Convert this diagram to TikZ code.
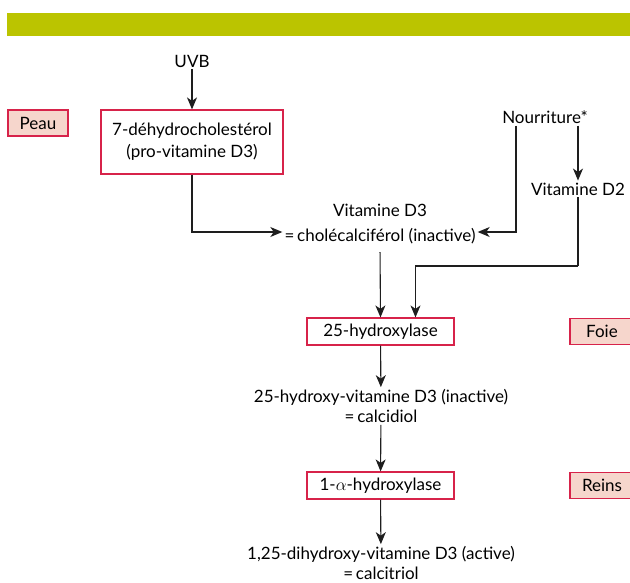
\documentclass[tikz,border=0pt]{standalone}
\usepackage{fontspec}
\setmainfont{Lato}
\usetikzlibrary{arrows.meta, positioning}
\definecolor{barolive}{HTML}{BBC400}
\definecolor{boxred}{HTML}{D7234A}
\definecolor{tagfill}{HTML}{F6D6CC}
\definecolor{linegray}{HTML}{1E1E1E}
\tikzset{
  txt/.style={align=center, inner sep=2pt, font=\fontsize{17}{20}\selectfont},
  enz/.style={txt, draw=boxred, line width=1.2pt, fill=white,
              minimum width=147pt, minimum height=27pt},
  organ/.style={txt, draw=boxred, line width=1.2pt, fill=tagfill,
                minimum width=60pt, minimum height=26pt},
  flow/.style={-{Stealth[length=12pt, width=10pt, inset=3.5pt]}, line width=1.1pt, draw=linegray},
  edge/.style={line width=1.1pt, draw=linegray},
}

\begin{document}
\begin{tikzpicture}[x=1pt, y=-1pt]
  \useasboundingbox (0,0) rectangle (630,582);
  \fill[barolive] (7,13) rectangle (632,36);

  % skin
  \node (uvb)  [txt] at (192,61) {UVB};
  \node (dhc)  [enz, minimum width=182pt, minimum height=64pt] at (192,142)
               {7-déhydrocholestérol\\[2pt](pro-vitamine D3)};
  \node (peau) [organ] at (38,123) {Peau};

  % food
  \node (nour)  [txt] at (545,117) {Nourriture*};
  \node (vitd3) [txt] at (380,224) {Vitamine D3\\[5pt]=\,cholécalciférol (inactive)};
  \node (vitd2) [txt] at (578,189) {Vitamine D2};

  % liver
  \node (hyd25) [enz] at (380.5,331.5) {25-hydroxylase};
  \node (foie)  [organ, minimum width=64pt] at (602,331.5) {Foie};
  \node (calcidiol) [txt] at (381,406) {25-hydroxy-vitamine D3 (inactive)\\=\,calcidiol};

  % kidney
  \node (hyd1a) [enz] at (380.5,485.5) {1-$\alpha$-hydroxylase};
  \node (reins) [organ, minimum width=64pt] at (602,485.5) {Reins};
  \node (calcitriol) [txt] at (381,563) {1,25-dihydroxy-vitamine D3 (active)\\=\,calcitriol};

  \coordinate (bend) at (578,266);

  \draw[flow] (uvb) -- (dhc);
  \draw[flow] (dhc.south) |- ([yshift=-8pt]vitd3.west);
  \draw[flow] ([xshift=-29pt]nour.south) |- ([yshift=-8pt]vitd3.east);
  \draw[flow] (vitd2.north |- nour.south) -- (vitd2.north);
  \draw[edge] (vitd2.south) -- (bend);
  \draw[flow] (bend) -| ([xshift=35pt]hyd25.north);
  \draw[flow, shorten <=6pt] (vitd3.south) -- (hyd25.north);
  \draw[flow] (hyd25) -- (calcidiol);
  \draw[flow] (calcidiol) -- (hyd1a);
  \draw[flow] (hyd1a) -- (calcitriol);
\end{tikzpicture}
\end{document}
